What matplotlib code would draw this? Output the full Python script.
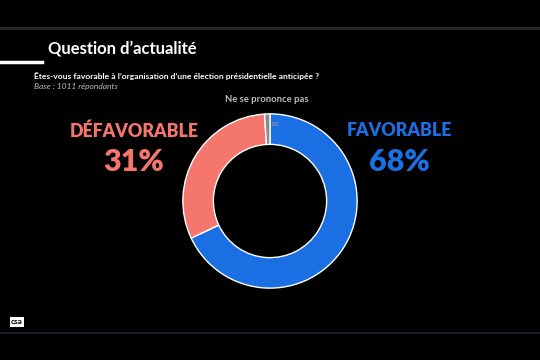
import matplotlib
matplotlib.use("Agg")
import matplotlib.pyplot as plt

labels = ["FAVORABLE", "DÉFAVORABLE", "Ne se prononce pas"]
values = [68, 31, 1]
colors = ["#1a6fe3", "#f4766c", "#8c8c8c"]

title = "Question d’actualité"
question = "Êtes-vous favorable à l’organisation d’une élection présidentielle anticipée ?"
base = "Base : 1011 répondants"

W, H = 540, 360
fig = plt.figure(figsize=(5.4, 3.6), dpi=100, facecolor="black")

def fx(x):
    return x / W

def fy(y):
    return 1 - y / H

font = ["Lato", "DejaVu Sans"]

# header lines
fig.add_artist(plt.Line2D([0, 1], [fy(28), fy(28)], color="#262626", lw=2.2))
fig.add_artist(plt.Line2D([0, 1], [fy(333), fy(333)], color="#1d1d29", lw=1.5))
fig.add_artist(plt.Line2D([0, fx(42)], [fy(62), fy(62)], color="white", lw=2.5))

fig.text(fx(48), fy(48), title, color="white", fontsize=12, fontweight="bold",
         family=font, va="center", ha="left")
fig.text(fx(34), fy(76), question, color="white", fontsize=6.1, fontweight="bold",
         family=font, va="center", ha="left")
fig.text(fx(34), fy(87), base, color="#bdbdbd", fontsize=6.0, style="italic",
         family=font, va="center", ha="left")

# donut
cx, cy, r = 270, 201, 88
ax = fig.add_axes([fx(cx - r), 1 - (cy + r) / H, 2 * r / W, 2 * r / H])
ax.set_facecolor("black")
wedges, _ = ax.pie(values, colors=colors, startangle=90, counterclock=False,
                   wedgeprops=dict(width=0.35, edgecolor="white", linewidth=1.0))
ax.set_xlim(-1.01, 1.01)
ax.set_ylim(-1.01, 1.01)
ax.set_aspect("equal")
ax.axis("off")

# small 1% label inside gray slice
ax.text(0.06, 0.88, f"{values[2]}%", color="#9a9a9a", fontsize=4.5, fontweight="bold",
        family=font, ha="center", va="center")

fig.text(fx(267), fy(99), labels[2], color="#bdbdbd", fontsize=6.8, fontweight="bold",
         family=font, ha="center", va="center")

fig.text(fx(134), fy(131), labels[1], color=colors[1], fontsize=12.8, fontweight="heavy",
         family=font, ha="center", va="center")
fig.text(fx(134), fy(162), f"{values[1]}%", color=colors[1], fontsize=22, fontweight="heavy",
         family=font, ha="center", va="center")
fig.text(fx(399), fy(131), labels[0], color=colors[0], fontsize=12.8, fontweight="heavy",
         family=font, ha="center", va="center")
fig.text(fx(399), fy(162), f"{values[0]}%", color=colors[0], fontsize=22, fontweight="heavy",
         family=font, ha="center", va="center")

# logo
fig.text(fx(17), fy(322), "csa", color="black", fontsize=6, fontweight="bold",
         family=font, ha="center", va="center",
         bbox=dict(boxstyle="square,pad=0.15", fc="white", ec="none"))

fig.savefig("out.png", dpi=100, facecolor="black")
